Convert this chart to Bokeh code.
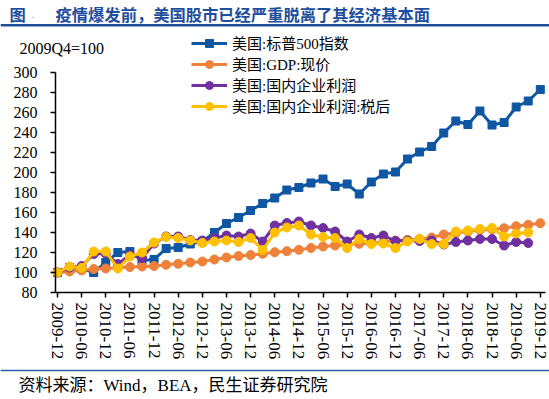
from bokeh.plotting import figure
from bokeh.models import Range1d, FixedTicker, Legend, LegendItem, Label, BoxAnnotation
from bokeh.embed import file_html
from bokeh.resources import INLINE

# ---------------- data ----------------
quarters = ["2009-12", "2010-03", "2010-06", "2010-09", "2010-12", "2011-03", "2011-06", "2011-09",
            "2011-12", "2012-03", "2012-06", "2012-09", "2012-12", "2013-03", "2013-06", "2013-09",
            "2013-12", "2014-03", "2014-06", "2014-09", "2014-12", "2015-03", "2015-06", "2015-09",
            "2015-12", "2016-03", "2016-06", "2016-09", "2016-12", "2017-03", "2017-06", "2017-09",
            "2017-12", "2018-03", "2018-06", "2018-09", "2018-12", "2019-03", "2019-06", "2019-09",
            "2019-12"]
sp500 = [100, 105, 104, 100, 110, 120, 121, 112, 113, 124, 125, 128.5, 131, 140, 149, 155,
         162, 169, 174.5, 182.5, 185, 189.5, 193.5, 186, 188.5, 178.5, 190.5, 198.5, 200.5, 213.5,
         220.5, 226, 239.5, 251.5, 248, 261.5, 247.5, 250, 265.5, 271.5, 283]
gdp = [100, 101, 102, 103.5, 104, 105, 105.5, 106, 106.5, 107.7, 108.7, 110, 111, 113, 115, 116.5,
       117.5, 118.7, 120.3, 121.3, 122.7, 124.5, 126, 127, 127.7, 128.7, 129.3, 130.5, 132, 132.5,
       133.5, 135, 138, 139.5, 141, 142.5, 143.3, 144.3, 146.3, 147.7, 149.3]
profit = [100, 105, 106.5, 118.5, 119, 108.5, 117.5, 114.5, 129, 136, 136, 132.5, 132, 134.5, 137, 136,
          139, 131, 147, 149.5, 151, 147, 144.5, 141, 131, 138, 134.5, 137, 131.5, 132,
          131.5, 132, 128, 130.5, 132, 133.5, 133.5, 127, 130.5, 129.5]
profit_after_tax = [100, 106, 104.5, 121, 121, 104, 116, 120, 130, 135.5, 134.5, 132, 129.5, 131, 132, 130.5,
                    134.5, 122.5, 140, 145, 147, 138, 135.5, 134.5, 124.5, 133.5, 128.5, 129, 124.5, 131,
                    133.5, 128.5, 128.5, 141, 142, 143.5, 144.5, 136, 139, 140]
series_names = ["美国:标普500指数", "美国:GDP:现价", "美国:国内企业利润", "美国:国内企业利润:税后"]
y_ticks = [80, 100, 120, 140, 160, 180, 200, 220, 240, 260, 280, 300]
title_text = "疫情爆发前，美国股市已经严重脱离了其经济基本面"
unit_text = "2009Q4=100"
source_text = "资料来源：Wind，BEA，民生证券研究院"

# ---------------- layout (frame = whole canvas, axes at fixed locations) ----------------
W, H = 549, 399
PX0, PPX = 57.0, 12.07       # pixel of first quarter, pixels per quarter
PY100 = 272.0                # pixel of value 100, 1 px per unit


def dx(px):
    return (px - PX0) / PPX


def dy(py):
    return 100 + (PY100 - py)


SERIF_MIX = "'Liberation Serif', 'Noto Sans CJK SC'"
CJK = "Noto Sans CJK SC"
BLUE = "#0F57A3"
ORANGE = "#EE823A"
PURPLE = "#7030A0"
YELLOW = "#FFC000"
TITLE_BLUE = "#1E4E9E"

p = figure(width=W, height=H, x_range=Range1d(dx(0), dx(W)), y_range=Range1d(dy(H), dy(0)),
           output_backend="svg", toolbar_location=None,
           min_border_left=0, min_border_right=0, min_border_top=0, min_border_bottom=0)
p.title.visible = False
p.outline_line_color = None
p.grid.visible = False
p.background_fill_color = "white"
p.border_fill_color = "white"

x_all = list(range(len(quarters)))

r_sp_l = p.line(x_all, sp500, color=BLUE, line_width=3)
r_sp_m = p.scatter(x_all, sp500, marker="square", size=8, color=BLUE)
r_gdp_l = p.line(x_all, gdp, color=ORANGE, line_width=3)
r_gdp_m = p.scatter(x_all, gdp, marker="circle", size=9, color=ORANGE)
r_pr_l = p.line(x_all[:len(profit)], profit, color=PURPLE, line_width=3)
r_pr_m = p.scatter(x_all[:len(profit)], profit, marker="circle", size=9, color=PURPLE)
r_at_l = p.line(x_all[:len(profit_after_tax)], profit_after_tax, color=YELLOW, line_width=3)
r_at_m = p.scatter(x_all[:len(profit_after_tax)], profit_after_tax, marker="circle", size=9, color=YELLOW)

# axes
yax = p.yaxis[0]
yax.fixed_location = dx(55)
yax.bounds = (y_ticks[0], y_ticks[-1])
yax.ticker = FixedTicker(ticks=y_ticks)
yax.major_tick_out = 5
yax.major_tick_in = 0
yax.minor_tick_out = 0
yax.minor_tick_in = 0
yax.major_label_standoff = 13
yax.axis_line_width = 1.5
yax.major_tick_line_width = 1.5
yax.axis_line_color = "black"
yax.major_label_text_font = "Liberation Serif"
yax.major_label_text_font_size = "16px"
yax.major_label_text_color = "black"

xax = p.xaxis[0]
xax.fixed_location = y_ticks[0]
xax.bounds = (dx(55), dx(545))
even = [i for i in x_all if i % 2 == 0]
xax.ticker = FixedTicker(ticks=even)
xax.major_label_overrides = {i: quarters[i] for i in even}
xax.major_label_orientation = "vertical"
xax.major_tick_out = 5
xax.major_tick_in = 0
xax.minor_tick_out = 0
xax.minor_tick_in = 0
xax.major_label_standoff = 5
xax.axis_line_width = 1.5
xax.major_tick_line_width = 1.5
xax.axis_line_color = "black"
xax.major_label_text_font = "Liberation Serif"
xax.major_label_text_font_size = "17px"
xax.major_label_text_color = "black"

# legend
items = [LegendItem(label=series_names[0], renderers=[r_sp_l, r_sp_m]),
         LegendItem(label=series_names[1], renderers=[r_gdp_l, r_gdp_m]),
         LegendItem(label=series_names[2], renderers=[r_pr_l, r_pr_m]),
         LegendItem(label=series_names[3], renderers=[r_at_l, r_at_m])]
legend = Legend(items=items, location=(191, H - 116), orientation="vertical",
                glyph_width=36, glyph_height=20, label_height=20, spacing=0, padding=0, margin=0,
                label_standoff=5, border_line_color=None, background_fill_alpha=0,
                label_text_font=SERIF_MIX, label_text_font_size="15px", label_text_color="black")
p.add_layout(legend)

# title block
p.add_layout(Label(x=dx(9), y=dy(13), text="图", text_font=CJK, text_font_style="bold",
                   text_font_size="16.3px", text_color=TITLE_BLUE, text_baseline="middle"))
p.add_layout(Label(x=dx(31), y=dy(13), text=".", text_font="Liberation Serif",
                   text_font_size="12px", text_color="#9db3d6", text_baseline="middle"))
p.add_layout(Label(x=dx(55), y=dy(13), text=title_text, text_font=CJK, text_font_style="bold",
                   text_font_size="16.3px", text_color=TITLE_BLUE, text_baseline="middle"))
p.add_layout(BoxAnnotation(left=dx(0), right=dx(W), top=dy(23.5), bottom=dy(26),
                           fill_color=TITLE_BLUE, fill_alpha=1, line_color=None))

p.add_layout(Label(x=dx(19), y=dy(48), text=unit_text, text_font="Liberation Serif",
                   text_font_size="16px", text_color="black", text_baseline="middle"))

# source block
p.add_layout(BoxAnnotation(left=dx(0), right=dx(W), top=dy(369.3), bottom=dy(370.7),
                           fill_color="#2D5FAE", fill_alpha=1, line_color=None))
p.add_layout(Label(x=dx(18), y=dy(385), text=source_text, text_font=SERIF_MIX,
                   text_font_size="17px", text_color="black", text_baseline="middle"))

open("out.html", "w").write(file_html(p, INLINE))
